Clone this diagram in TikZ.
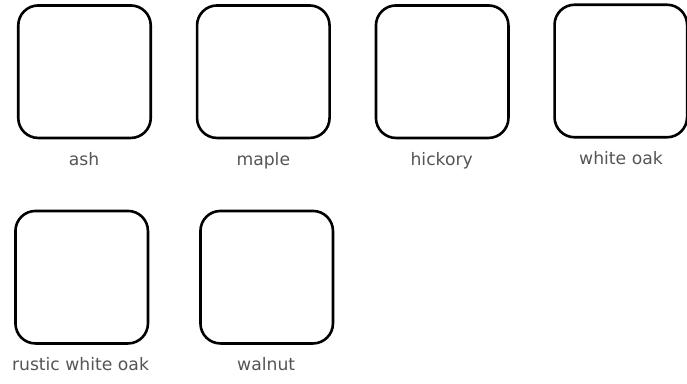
\documentclass[tikz,border=0pt]{standalone}
\usepackage{fontspec}
\setmainfont{DejaVu Sans}
\definecolor{labelgray}{HTML}{555555}
\tikzset{
  woodbox/.style={draw=black, line width=2.6pt, rounded corners=20pt, minimum width=132.5pt, minimum height=132.5pt, inner sep=0pt, fill=white},
  woodlabel/.style={anchor=base, inner sep=0pt, text=labelgray, font=\fontsize{17.2pt}{19pt}\selectfont}
}
\begin{document}
\begin{tikzpicture}[x=1pt, y=-1pt]
  \useasboundingbox (0,0) rectangle (687,383);
  \node[woodbox] (ash) at (84.5,71.7) {};
  \node[woodbox] (maple) at (263.3,71.7) {};
  \node[woodbox] (hickory) at (442.2,71.7) {};
  \node[woodbox] (whiteoak) at (620.8,71) {};
  \node[woodbox] (rustic) at (81.7,277.2) {};
  \node[woodbox] (walnut) at (266.7,277.2) {};
  \node[woodlabel] (ashl) at (84,165) {ash};
  \node[woodlabel] (maplel) at (263.3,165) {maple};
  \node[woodlabel] (hickoryl) at (441.7,165) {hickory};
  \node[woodlabel] (whiteoakl) at (621,164) {white oak};
  \node[woodlabel] (rusticl) at (80.5,370.7) {rustic white oak};
  \node[woodlabel] (walnutl) at (266.2,370.7) {walnut};
\end{tikzpicture}
\end{document}
